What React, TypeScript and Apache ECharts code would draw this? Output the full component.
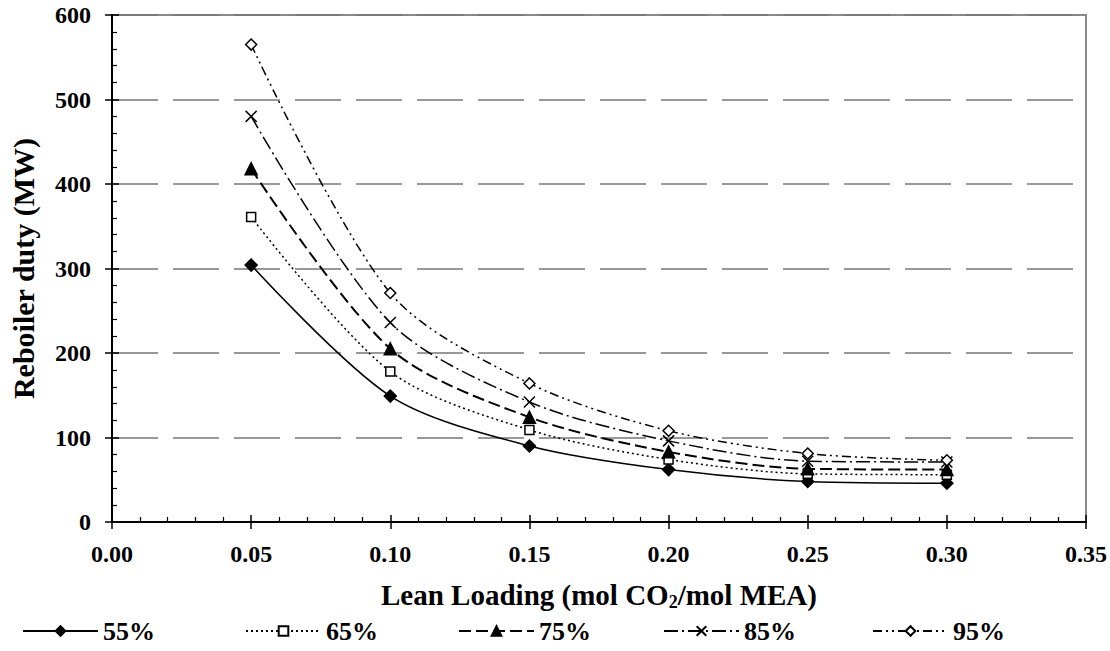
import React, { useEffect, useRef } from "react";
import * as echarts from "echarts";

// Lean loading (mol CO2 / mol MEA)
const leanLoading = [0.05, 0.1, 0.15, 0.2, 0.25, 0.3];

// Reboiler duty (MW) for each capture rate
const duty55 = [304, 149, 90, 62, 48, 46];
const duty65 = [361, 178, 109, 74, 57, 56];
const duty75 = [418, 205, 124, 83, 63, 62];
const duty85 = [480, 236, 142, 96, 72, 71];
const duty95 = [565, 271, 164, 108, 81, 73];

const seriesNames = ["55%", "65%", "75%", "85%", "95%"];

const FONT = "'Liberation Serif', 'Times New Roman', serif";
const CROSS = "path://M0,0L10,10M10,0L0,10";

// left edge of each legend entry
const legendLeft = [22, 245, 458, 663, 872];

export default function App() {
  const ref = useRef<HTMLDivElement>(null);

  useEffect(() => {
    if (!ref.current) return;
    const chart = echarts.init(ref.current, undefined, { renderer: "svg" });

    const pts = (vals: number[]) => leanLoading.map((x, i) => [x, vals[i]]);

    const styles = [
      { data: duty55, dash: "solid" as any, symbol: "diamond", size: 12, fill: "#000", width: 1.5 },
      { data: duty65, dash: [2, 3], symbol: "rect", size: 9, fill: "#fff", width: 1.5 },
      { data: duty75, dash: [12, 5], symbol: "triangle", size: 12, fill: "#000", width: 2 },
      { data: duty85, dash: [14, 4, 2, 4], symbol: CROSS, size: 11, fill: "#000", width: 1.5 },
      { data: duty95, dash: [9, 4, 2, 4, 2, 4], symbol: "diamond", size: 11, fill: "#fff", width: 1.5 },
    ];

    const series = styles.map((s, i) => ({
      name: seriesNames[i],
      type: "line",
      xAxisIndex: 0,
      yAxisIndex: 0,
      data: pts(s.data),
      smooth: 0.3,
      symbol: s.symbol,
      symbolSize: s.size,
      showSymbol: true,
      lineStyle: { color: "#000", width: s.width, type: s.dash },
      itemStyle: { color: s.fill, borderColor: "#000", borderWidth: 1.5, opacity: 1 },
      z: 3,
    }));

    const tickLabel = { fontFamily: FONT, fontWeight: "bold", fontSize: 24, color: "#000" };

    const legends = seriesNames.map((n, i) => ({
      left: legendLeft[i],
      top: 617,
      padding: 0,
      itemWidth: 75,
      itemHeight: 12,
      itemGap: 6,
      textStyle: { fontFamily: FONT, fontWeight: "bold", fontSize: 26, color: "#000", lineHeight: 28 },
      data: [n],
    }));

    chart.setOption({
      animation: false,
      backgroundColor: "#fff",
      grid: {
        left: 112,
        right: 21,
        top: 15,
        bottom: 129,
        show: true,
        borderColor: "#888",
        borderWidth: 2,
        backgroundColor: "transparent",
      },
      legend: legends,
      xAxis: [
        {
          type: "value",
          min: 0,
          max: 0.35,
          interval: 0.05,
          position: "bottom",
          axisLine: { show: true, lineStyle: { color: "#000", width: 2 } },
          axisTick: { show: true, inside: false, length: 7, lineStyle: { color: "#000", width: 1.5 } },
          axisLabel: { ...tickLabel, margin: 20, formatter: (v: number) => v.toFixed(2) },
          splitLine: { show: false },
          name: "{a|Lean Loading (mol CO}{s|2}{a|/mol MEA)}",
          nameLocation: "middle",
          nameGap: 57,
          nameTextStyle: {
            rich: {
              a: { fontFamily: FONT, fontWeight: "bold", fontSize: 29, color: "#000" },
              s: { fontFamily: FONT, fontWeight: "bold", fontSize: 18, color: "#000", padding: [14, 0, 0, 0] },
            },
          },
        },
        {
          type: "value",
          min: 0,
          max: 0.35,
          interval: 0.05,
          position: "bottom",
          axisLine: { show: false },
          axisTick: { show: true, inside: true, length: 7, lineStyle: { color: "#000", width: 1.5 } },
          minorTick: { show: true, splitNumber: 5, length: 5, lineStyle: { color: "#000", width: 1.2 } },
          axisLabel: { show: false },
          splitLine: { show: false },
        },
      ],
      yAxis: [
        {
          type: "value",
          min: 0,
          max: 600,
          interval: 100,
          position: "left",
          axisLine: { show: true, lineStyle: { color: "#000", width: 2 } },
          axisTick: { show: true, inside: false, length: 7, lineStyle: { color: "#000", width: 1.5 } },
          axisLabel: { ...tickLabel, margin: 21 },
          splitLine: { show: true, lineStyle: { color: "#777", width: 1.5, type: [46, 15] } },
          name: "Reboiler duty (MW)",
          nameLocation: "middle",
          nameGap: 74,
          nameTextStyle: { fontFamily: FONT, fontWeight: "bold", fontSize: 30, color: "#000" },
        },
        {
          type: "value",
          min: 0,
          max: 600,
          interval: 100,
          position: "left",
          axisLine: { show: false },
          axisTick: { show: true, inside: true, length: 7, lineStyle: { color: "#000", width: 1.5 } },
          minorTick: { show: true, splitNumber: 5, length: 5, lineStyle: { color: "#000", width: 1.2 } },
          axisLabel: { show: false },
          splitLine: { show: false },
        },
      ],
      series,
    });

    return () => chart.dispose();
  }, []);

  return (
    <div
      ref={ref}
      style={{ position: "fixed", left: 0, top: 0, width: 1110, height: 651, background: "#fff" }}
    />
  );
}
